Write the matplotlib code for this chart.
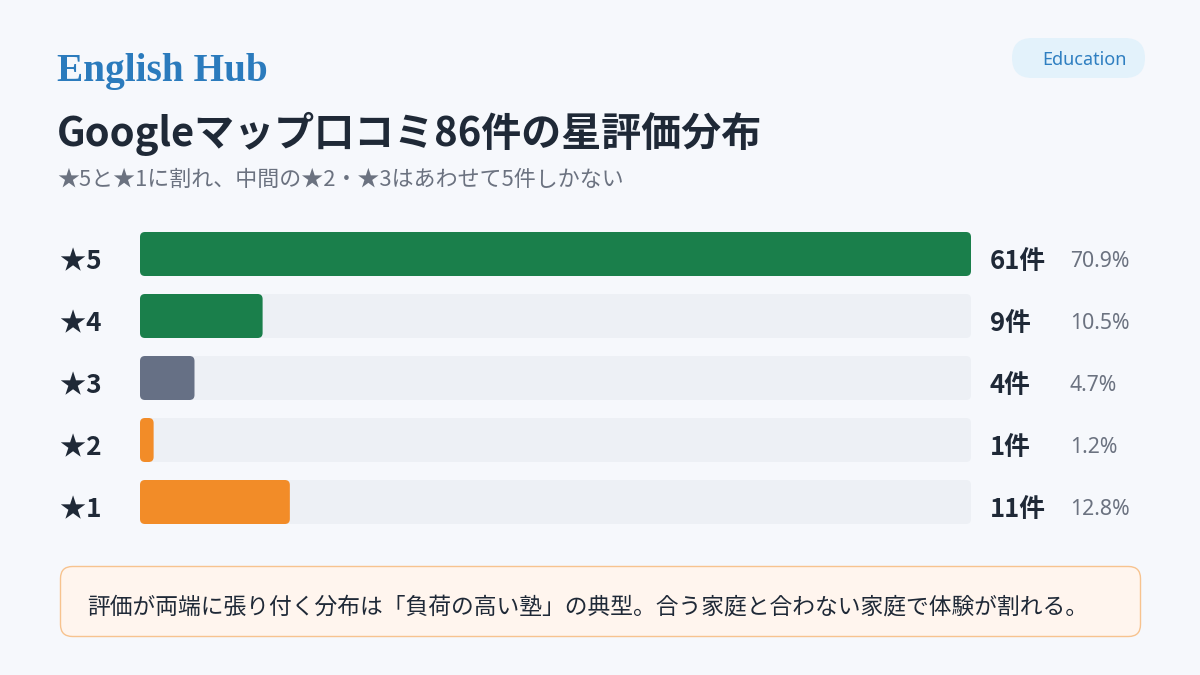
import matplotlib.pyplot as plt
from matplotlib.patches import FancyBboxPatch
from matplotlib.transforms import blended_transform_factory

# data
stars = ["★5", "★4", "★3", "★2", "★1"]
counts = [61, 9, 4, 1, 11]
bar_colors = ["#1a7f4b", "#1a7f4b", "#667085", "#f28c28", "#f28c28"]
total = sum(counts)

brand = "English Hub"
tag = "Education"
title = "Googleマップ口コミ86件の星評価分布"
subtitle = "★5と★1に割れ、中間の★2・★3はあわせて5件しかない"
note = "評価が両端に張り付く分布は「負荷の高い塾」の典型。合う家庭と合わない家庭で体験が割れる。"

JP = ["Noto Sans CJK JP", "DejaVu Sans"]
BG = "#f6f8fc"
DARK = "#1f2937"
GRAY = "#6b7280"

fig = plt.figure(figsize=(12, 6.75), dpi=100)
fig.patch.set_facecolor(BG)

# full-figure axes in pixel coordinates for the decorations
bg = fig.add_axes([0, 0, 1, 1])
bg.set_xlim(0, 1200)
bg.set_ylim(675, 0)
bg.axis("off")

bg.text(57, 71, brand, family="Liberation Serif", weight="bold", fontsize=28.3,
        color="#2b7bbd", va="center")
bg.add_patch(FancyBboxPatch((1012, 38), 133, 40, boxstyle="round,pad=0,rounding_size=20",
                            fc="#e3f2fb", ec="none"))
bg.text(1084, 60, tag, family=["Noto Sans", "DejaVu Sans"], fontsize=13,
        color="#2f7fc1", ha="center", va="center")
bg.text(57, 134, title, family=JP, weight="bold", fontsize=28.8, color=DARK, va="center")
bg.text(57, 180, subtitle, family=JP, fontsize=15.8, color=GRAY, va="center")

bg.add_patch(FancyBboxPatch((60.5, 566.5), 1080, 70, boxstyle="round,pad=0,rounding_size=12",
                            fc="#fff5ee", ec="#f7c38f", lw=1))
bg.text(87, 607, note, family=JP, fontsize=16.4, color=DARK, va="center")

# bar axes
x0, x1 = 140, 971
row_h = 62
top = 223
ax = fig.add_axes([x0 / 1200, (675 - (top + row_h * len(stars))) / 675,
                   (x1 - x0) / 1200, row_h * len(stars) / 675])
ax.set_xlim(0, max(counts))
ax.set_ylim(len(stars) - 0.5, -0.5)
ax.axis("off")
ax.patch.set_alpha(0)

px_per_x = (x1 - x0) / max(counts)
aspect = (1 / row_h) / (1 / px_per_x)
bh = 44 / row_h
r = 5 / px_per_x

for i, (c, col) in enumerate(zip(counts, bar_colors)):
    ax.add_patch(FancyBboxPatch((0, i - bh / 2), max(counts), bh,
                                boxstyle=f"round,pad=0,rounding_size={r}",
                                mutation_aspect=aspect, fc="#edf0f5", ec="none"))
    rr = min(r, c / 2)
    ax.add_patch(FancyBboxPatch((0, i - bh / 2), c, bh,
                                boxstyle=f"round,pad=0,rounding_size={rr}",
                                mutation_aspect=aspect, fc=col, ec="none"))

tr = blended_transform_factory(bg.transData, ax.transData)
dy = 0.12
for i, (s, c) in enumerate(zip(stars, counts)):
    ax.text(60, i + dy, s, transform=tr, family=JP, weight="bold", fontsize=18.8,
            color=DARK, va="center")
    ax.text(990, i + dy, f"{c}件", transform=tr, family=JP, weight="bold",
            fontsize=18.5, color=DARK, va="center")
    ax.text(1070, i + dy, f"{c / total * 100:.1f}%", transform=tr,
            family=["Noto Sans", "DejaVu Sans"], fontsize=15.3, color=GRAY, va="center")

fig.savefig("out.png", dpi=100, facecolor=BG)
